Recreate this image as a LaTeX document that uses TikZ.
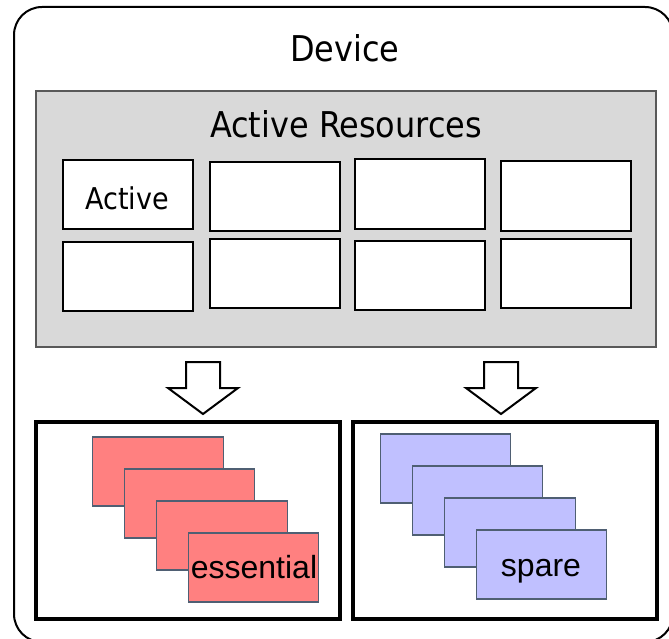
\documentclass[tikz,border=0pt]{standalone}
\usepackage{fontspec}
\setmainfont{Liberation Sans}
\newfontfamily\tahomalike{DejaVu Sans Condensed}
\definecolor{grayfill}{HTML}{D9D9D9}
\definecolor{grayline}{HTML}{595959}
\definecolor{redfill}{HTML}{FF8080}
\definecolor{bluefill}{HTML}{C0C0FF}
\definecolor{cardline}{HTML}{4F5F73}
\begin{document}
\begin{tikzpicture}[x=1pt,y=-1pt,
  outerbox/.style={draw=black,line width=2pt,rounded corners=28pt},
  panel/.style={draw=grayline,fill=grayfill,line width=1.6pt,minimum width=620pt,minimum height=256pt,inner sep=0pt},
  cell/.style={draw=black,fill=white,line width=2pt,minimum width=130pt,minimum height=69pt,inner sep=0pt},
  groupbox/.style={draw=black,line width=3.5pt,minimum width=304pt,minimum height=197pt,inner sep=0pt},
  card/.style={draw=cardline,line width=1.3pt,minimum width=130.5pt,minimum height=69pt,inner sep=0pt},
  redcard/.style={card,fill=redfill},
  bluecard/.style={card,fill=bluefill},
  bigarrow/.style={draw=black,fill=white,line width=2pt,line join=miter},
  titlefont/.style={font=\tahomalike\fontsize{35.5}{42}\selectfont},
  cellfont/.style={font=\tahomalike\fontsize{30}{36}\selectfont},
  cardfont/.style={font=\fontsize{32}{38}\selectfont}
]
\useasboundingbox (0,0) rectangle (669,639);
% outer device box
\draw[outerbox] (14,7) rectangle (673,642);
\node[titlefont,anchor=base] (device) at (345,62) {Device};
% active resources panel
\node[panel] (panel) at (346,219) {};
\node[titlefont,anchor=base] (activeres) at (346,138) {Active Resources};
% grid cells
\node[cell] (c11) at (128,194.5) {};
\node[cell] (c12) at (274.5,196.5) {};
\node[cell] (c13) at (420,194) {};
\node[cell] (c14) at (566,196) {};
\node[cell] (c21) at (128,276.5) {};
\node[cell] (c22) at (274.5,273.5) {};
\node[cell] (c23) at (420,275.5) {};
\node[cell] (c24) at (566,273) {};
\node[cellfont,anchor=base] (activelabel) at (127,209) {Active};
% bottom group boxes
\node[groupbox] (gleft) at (188,520.5) {};
\node[groupbox] (gright) at (505,520.5) {};
% block arrows
\coordinate (a1) at (203,362);
\coordinate (a2) at (501,362);
\foreach \a in {a1,a2}{
  \draw[bigarrow] (\a) ++(-17,0) -- ++(34,0) -- ++(0,26) -- ++(18,0) -- ++(-35,26) -- ++(-35,-26) -- ++(18,0) -- cycle;
}
% red cards
\node[redcard] (r1) at (158,471.5) {};
\node[redcard] (r2) at (189.5,503.5) {};
\node[redcard] (r3) at (222,535.5) {};
\node[redcard] (r4) at (253.5,567.5) {};
\node[cardfont,anchor=base] (esslabel) at (254,578) {essential};
% blue cards
\node[bluecard] (b1) at (445.5,468.5) {};
\node[bluecard] (b2) at (477.5,500.5) {};
\node[bluecard] (b3) at (510,532.5) {};
\node[bluecard] (b4) at (541.5,564.5) {};
\node[cardfont,anchor=base] (sparelabel) at (541,576.7) {spare};
\end{tikzpicture}
\end{document}
